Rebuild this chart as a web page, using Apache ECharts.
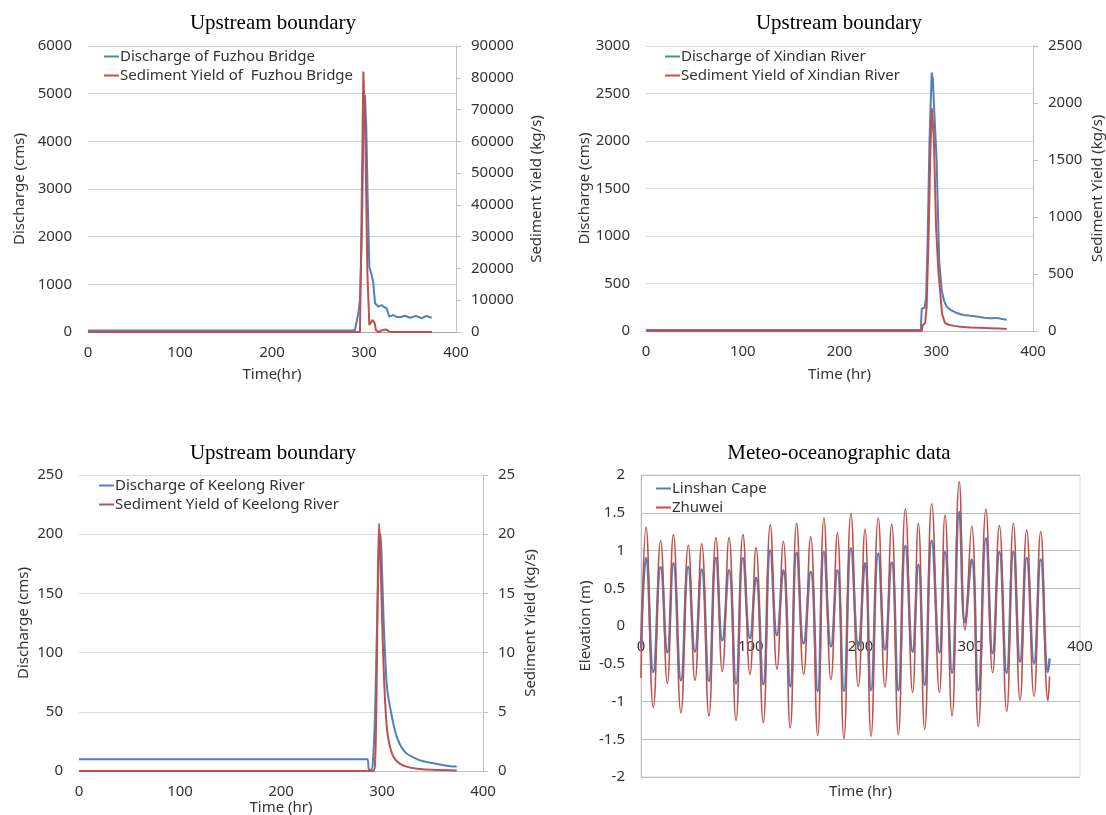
<!DOCTYPE html>
<html lang="en">
<head>
<meta charset="UTF-8">
<script src="https://cdn.jsdelivr.net/npm/echarts@6/dist/echarts.min.js"></script>
<style>
  html, body { margin: 0; padding: 0; background: #ffffff; }
  #main { width: 1106px; height: 815px; }
</style>
</head>
<body>
<div id="main"></div>
<script type="text/javascript">
// ---- Fuzhou Bridge (top left) ----
var fuzhouQTime = [0, 288, 290.2, 293.8, 295.6, 297.5, 299.3, 301, 302.5, 304, 305.8, 308.3, 310, 312, 315.6, 319.2, 322, 324.6, 327.5, 331.9, 335, 339, 344.6, 350, 356.5, 362.7, 368, 373.6];
var fuzhouQ     = [30, 30, 42, 392, 671, 1930, 4028, 4970, 4300, 2800, 1370, 1196, 1050, 602, 531, 566, 520, 497, 321, 357, 320, 311, 342, 300, 335, 290, 335, 300];
var fuzhouSTime = [0, 295.6, 297, 299.3, 301.5, 303.7, 305.8, 307.3, 309.4, 311.6, 313, 316, 320, 324.6, 328, 374];
var fuzhouS     = [0, 0, 28950, 82000, 60400, 18500, 2200, 2900, 3800, 2800, 500, 0, 600, 800, 0, 0];

// ---- Xindian River (top right) ----
var xindianQTime = [0, 284, 285, 288, 289.5, 291, 293, 295.3, 296.5, 298, 300.4, 303, 305.6, 308, 310.8, 315, 320, 327.8, 335, 340, 345, 350, 355.6, 362, 368, 372.8];
var xindianQ     = [10, 10, 235, 245, 350, 900, 2000, 2720, 2650, 2300, 1800, 747, 431, 320, 256, 220, 195, 168, 160, 155, 148, 140, 134, 138, 126, 118];
var xindianSTime = [0, 285, 286, 288.5, 290, 292, 294, 295.5, 297.5, 299.8, 302, 303.9, 306, 309, 313, 318, 325, 335, 345, 355, 365, 372.8];
var xindianS     = [0, 0, 50, 70, 200, 800, 1600, 1953, 1700, 915, 550, 360, 150, 70, 55, 45, 38, 30, 28, 25, 22, 18];

// ---- Keelong River (bottom left) ----
var keelongQTime = [0, 285.5, 287, 289.5, 291, 293, 295, 297, 298.6, 300, 301.5, 303, 305, 308.5, 312, 315, 319, 324, 330, 340, 351, 360, 371.6, 374];
var keelongQ     = [10, 10, 1, 1, 8, 45, 120, 185, 200, 170, 130, 99, 70, 51.5, 37, 28, 20.5, 15, 12, 8.4, 6.5, 5, 3.7, 3.7];
var keelongSTime = [0, 291, 293, 294.5, 296, 297.1, 298.5, 300, 301.5, 303, 305, 308, 312, 318, 325, 335, 350, 374];
var keelongS     = [0, 0, 0.5, 6, 17, 20.9, 18, 13, 9, 6, 3.5, 2, 1.1, 0.6, 0.35, 0.2, 0.1, 0.05];

// ---- Tide levels (bottom right): turning points ----
var tideTime = [0, 4.6, 11.2, 17.9, 24, 29.5, 36.4, 43.1, 49.2, 55.3, 61.9, 68.3, 74.1, 80.2, 86.6, 92.9, 99.3,
  104.8, 111.4, 117.8, 123.9, 129.7, 136, 141.8, 148.2, 154.6, 161, 166.7, 173.1, 178.9, 184.9, 191.3, 198,
  204.1, 209.6, 216.2, 222.3, 228.4, 234.5, 240.9, 247.5, 252.7, 258.5, 264.9, 271.9, 277, 283.4, 290, 295.2,
  301.3, 307.4, 314.3, 320.4, 326.5, 333.2, 339.3, 345.4, 351.4, 358.1, 364.2, 370.8, 372.3];
var linshan = [-0.3, 0.9, -0.61, 0.78, -0.35, 0.83, -0.72, 0.78, -0.34, 0.75, -0.73, 0.9, -0.19, 0.74, -0.76, 0.9, -0.16,
  0.64, -0.77, 1.0, -0.12, 0.74, -0.8, 0.97, -0.23, 0.72, -0.86, 0.98, -0.27, 0.74, -0.86, 1.03, -0.27,
  0.83, -0.85, 0.96, -0.31, 0.84, -0.85, 1.06, -0.34, 0.81, -0.78, 1.13, -0.35, 0.98, -0.62, 1.51, 0.05,
  0.88, -0.85, 1.16, -0.36, 0.98, -0.62, 0.98, -0.47, 0.9, -0.49, 0.88, -0.61, -0.43];
var zhuwei = [-0.69, 1.31, -1.08, 1.13, -0.76, 1.21, -1.15, 1.07, -0.72, 1.09, -1.19, 1.17, -0.6, 1.17, -1.25, 1.21, -0.64,
  1.04, -1.28, 1.34, -0.57, 1.12, -1.35, 1.36, -0.64, 1.18, -1.45, 1.43, -0.71, 1.23, -1.49, 1.49, -0.8,
  1.28, -1.46, 1.43, -0.81, 1.35, -1.44, 1.55, -0.88, 1.36, -1.37, 1.62, -0.88, 1.47, -1.19, 1.91, -0.05,
  1.32, -1.33, 1.55, -0.62, 1.33, -1.13, 1.36, -0.98, 1.27, -0.93, 1.25, -0.99, -0.67];

var BLUE = '#4f81bd';
var RED = '#c0504d';
var FONT = '"Noto Sans", sans-serif';
var SERIF = '"Liberation Serif", "DejaVu Serif", serif';

function pairs(t, v) {
    return t.map(function (x, i) { return [x, v[i]]; });
}
function plain(v) { return String(v); }

var labelStyle = { color: '#333', fontSize: 15, fontFamily: FONT, formatter: plain };
var nameStyle = { color: '#333', fontSize: 15, fontFamily: FONT };

function xAxisFor(grid, name, gap, lineColor, offset) {
    return {
        type: 'value', gridIndex: grid, min: 0, max: 400, interval: 100, position: 'bottom', offset: offset || 0,
        name: name, nameLocation: 'middle', nameGap: gap, nameTextStyle: nameStyle,
        axisLine: { show: true, onZero: false, lineStyle: { color: lineColor, width: 1 } },
        axisTick: { show: false },
        axisLabel: Object.assign({ margin: 13 }, labelStyle),
        splitLine: { show: false }
    };
}
function leftAxis(grid, max, step, gap, gridColor) {
    return {
        type: 'value', gridIndex: grid, position: 'left', min: 0, max: max, interval: step,
        name: 'Discharge (cms)', nameLocation: 'middle', nameGap: gap, nameTextStyle: nameStyle,
        axisLine: { show: false }, axisTick: { show: false },
        axisLabel: Object.assign({ margin: 16 }, labelStyle),
        splitLine: { show: true, lineStyle: { color: gridColor, width: 1 } }
    };
}
function rightAxis(grid, max, step, gap) {
    return {
        type: 'value', gridIndex: grid, position: 'right', min: 0, max: max, interval: step,
        name: 'Sediment Yield (kg/s)', nameLocation: 'middle', nameGap: gap, nameTextStyle: nameStyle,
        axisLine: { show: true, lineStyle: { color: '#bfbfbf', width: 1 } },
        axisTick: { show: true, inside: false, length: 5, lineStyle: { color: '#bfbfbf' } },
        axisLabel: Object.assign({ margin: 15 }, labelStyle),
        splitLine: { show: false }
    };
}
function line(name, xi, yi, data, color, width, smooth) {
    return {
        name: name, type: 'line', xAxisIndex: xi, yAxisIndex: yi, data: data,
        symbol: 'none', smooth: smooth, color: color,
        lineStyle: { color: color, width: width }, animation: false
    };
}
function legendAt(left, top, names) {
    return {
        left: left, top: top, orient: 'vertical', icon: 'rect', itemWidth: 15, itemHeight: 2,
        itemGap: 0, padding: 0, selectedMode: false, data: names,
        textStyle: { color: '#333', fontSize: 15, fontFamily: FONT, lineHeight: 19, padding: [0, 0, 0, -4] }
    };
}
function titleAt(text, x, y) {
    return {
        text: text, left: x, top: y, textAlign: 'center', padding: 0,
        textStyle: { color: '#000', fontSize: 21, fontWeight: 'normal', fontFamily: SERIF }
    };
}

var myChart = echarts.init(document.getElementById('main'), null, { renderer: 'canvas' });

myChart.setOption({
    backgroundColor: '#ffffff',
    animation: false,
    title: [
        titleAt('Upstream boundary', 273, 13),
        titleAt('Upstream boundary', 839, 13),
        titleAt('Upstream boundary', 273, 443),
        titleAt('Meteo-oceanographic data', 839, 443)
    ],
    legend: [
        legendAt(104, 47, ['Discharge of Fuzhou Bridge', 'Sediment Yield of  Fuzhou Bridge']),
        legendAt(665, 47, ['Discharge of Xindian River', 'Sediment Yield of Xindian River']),
        legendAt(99, 476, ['Discharge of Keelong River', 'Sediment Yield of Keelong River']),
        legendAt(656, 479, ['Linshan Cape', 'Zhuwei'])
    ],
    grid: [
        { left: 88, top: 46, width: 368, height: 286, outerBoundsMode: 'none' },
        { left: 646, top: 46, width: 387, height: 285, outerBoundsMode: 'none' },
        { left: 79, top: 475, width: 404, height: 296, outerBoundsMode: 'none' },
        { left: 641, top: 475, width: 439, height: 302, outerBoundsMode: 'none',
          show: true, borderColor: '#d9d9d9', borderWidth: 1 }
    ],
    xAxis: [
        xAxisFor(0, 'Time(hr)', 35, '#a6a6a6'),
        xAxisFor(1, 'Time (hr)', 36, '#bfbfbf'),
        xAxisFor(2, 'Time (hr)', 25, '#bfbfbf'),
        // this axis sits on the zero line of the elevation axis, 151 px above the plot bottom
        xAxisFor(3, 'Time (hr)', 158, '#bdbdbd', -151)
    ],
    yAxis: [
        leftAxis(0, 6000, 1000, 61, '#cfcfcf'),
        rightAxis(0, 90000, 10000, 73),
        leftAxis(1, 3000, 500, 53, '#dadada'),
        rightAxis(1, 2500, 500, 57),
        leftAxis(2, 250, 50, 48, '#dadada'),
        rightAxis(2, 25, 5, 40),
        {
            type: 'value', gridIndex: 3, min: -2, max: 2, interval: 0.5,
            name: 'Elevation (m)', nameLocation: 'middle', nameGap: 48, nameTextStyle: nameStyle,
            axisLine: { show: true, lineStyle: { color: '#bfbfbf', width: 1 } },
            axisTick: { show: false },
            axisLabel: Object.assign({ margin: 16 }, labelStyle),
            splitLine: { show: true, lineStyle: { color: '#bdbdbd', width: 1 } }
        }
    ],
    series: [
        line('Discharge of Fuzhou Bridge', 0, 0, pairs(fuzhouQTime, fuzhouQ), BLUE, 2, false),
        line('Sediment Yield of  Fuzhou Bridge', 0, 1, pairs(fuzhouSTime, fuzhouS), RED, 2, false),
        line('Discharge of Xindian River', 1, 2, pairs(xindianQTime, xindianQ), BLUE, 2, false),
        line('Sediment Yield of Xindian River', 1, 3, pairs(xindianSTime, xindianS), RED, 2, false),
        line('Discharge of Keelong River', 2, 4, pairs(keelongQTime, keelongQ), BLUE, 2, 0.3),
        line('Sediment Yield of Keelong River', 2, 5, pairs(keelongSTime, keelongS), RED, 2, 0.3),
        line('Linshan Cape', 3, 6, pairs(tideTime, linshan), BLUE, 2.5, 0.5),
        line('Zhuwei', 3, 6, pairs(tideTime, zhuwei), RED, 1.6, 0.5)
    ]
});
</script>
</body>
</html>
